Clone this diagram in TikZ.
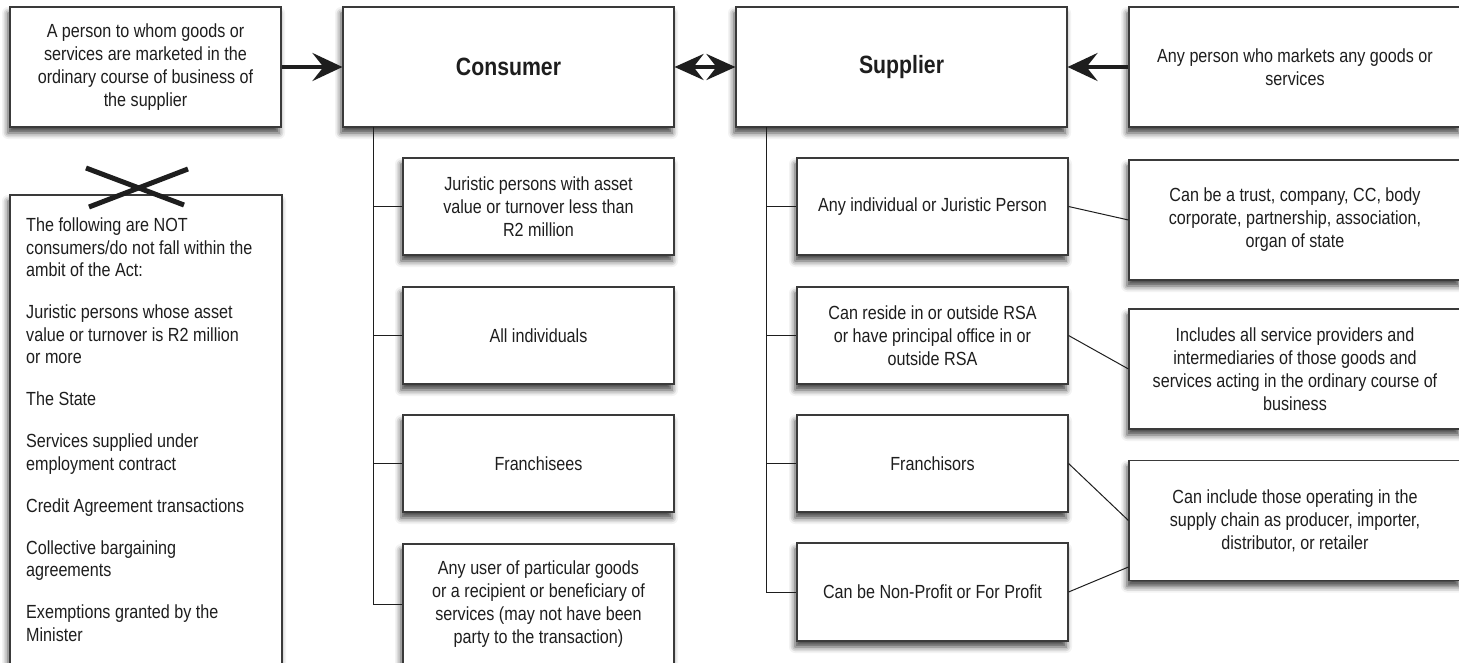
\documentclass[tikz,border=0pt]{standalone}
\usepackage{fontspec}
\setmainfont{Liberation Sans}[FakeStretch=0.85]
\usetikzlibrary{arrows.meta,shadows.blur,calc}
\definecolor{edge}{HTML}{3A3A3A}
\definecolor{ink}{HTML}{1E1E1E}
\tikzset{
  box/.style={draw=edge, line width=1.1pt, fill=white,
    blur shadow={shadow xshift=-2pt, shadow yshift=-6pt, shadow blur radius=6pt, shadow opacity=75},
    align=center, text=ink, inner sep=0pt,
    font=\fontsize{19}{23}\selectfont},
  head/.style={box, font=\bfseries\fontsize{25}{30}\selectfont},
  conn/.style={draw=ink, line width=1pt},
  bigarrow/.style={draw=ink, line width=4pt, -{Stealth[length=30pt,width=28pt,inset=11pt]}},
  dblarrow/.style={draw=ink, line width=4pt, {Stealth[length=29pt,width=26pt,inset=10pt]}-{Stealth[length=29pt,width=26pt,inset=10pt]}},
}
\begin{document}
\begin{tikzpicture}[x=1pt,y=-1pt]
\useasboundingbox (0,0) rectangle (1459,663);
% top row
\node[box, minimum width=271pt, minimum height=120pt] (defc) at (145.5,67)
  {A person to whom goods or\\services are marketed in the\\ordinary course of business of\\the supplier};
\node[head, minimum width=331pt, minimum height=120pt] (cons) at (508.5,67) {Consumer};
\node[head, minimum width=331pt, minimum height=120pt] (supp) at (901.5,67) {Supplier};
\node[box, minimum width=332pt, minimum height=120pt] (defs) at (1295,67)
  {Any person who markets any goods or\\services};
% NOT box
\node[box, minimum width=272pt, minimum height=485pt] (notbox) at (146,437.5) {};
\node[anchor=north west, align=left, inner sep=0pt, text=ink,
  font=\fontsize{19}{22.5}\selectfont] (nottext) at (26,218)
  {The following are NOT\\consumers/do not fall within the\\ambit of the Act:\\[19.5pt]
   Juristic persons whose asset\\value or turnover is R2 million\\or more\\[19.5pt]
   The State\\[19.5pt]
   Services supplied under\\employment contract\\[19.5pt]
   Credit Agreement transactions\\[19.5pt]
   Collective bargaining\\agreements\\[19.5pt]
   Exemptions granted by the\\Minister};
\draw[draw=ink, line width=5pt] (86,168) -- (184,205);
\draw[draw=ink, line width=5pt] (188,169) -- (89,207);
% consumer children
\node[box, minimum width=271pt, minimum height=97pt] (c1) at (538.5,206.5)
  {Juristic persons with asset\\value or turnover less than\\R2 million};
\node[box, minimum width=271pt, minimum height=97pt] (c2) at (538.5,335.5) {All individuals};
\node[box, minimum width=271pt, minimum height=97pt] (c3) at (538.5,463.5) {Franchisees};
\node[box, minimum width=271pt, minimum height=120pt] (c4) at (538.5,604)
  {Any user of particular goods\\or a recipient or beneficiary of\\services (may not have been\\party to the transaction)};
% supplier children
\node[box, minimum width=271pt, minimum height=97pt] (s1) at (932.5,206.5) {Any individual or Juristic Person};
\node[box, minimum width=271pt, minimum height=97pt] (s2) at (932.5,335.5)
  {Can reside in or outside RSA\\or have principal office in or\\outside RSA};
\node[box, minimum width=271pt, minimum height=97pt] (s3) at (932.5,463.5) {Franchisors};
\node[box, minimum width=271pt, minimum height=98pt] (s4) at (932.5,592) {Can be Non-Profit or For Profit};
% right column
\node[box, minimum width=332pt, minimum height=120pt] (r2) at (1295,220)
  {Can be a trust, company, CC, body\\corporate, partnership, association,\\organ of state};
\node[box, minimum width=332pt, minimum height=120pt] (r3) at (1295,369)
  {Includes all service providers and\\intermediaries of those goods and\\services acting in the ordinary course of\\business};
\node[box, minimum width=332pt, minimum height=120pt] (r4) at (1295,520.5)
  {Can include those operating in the\\supply chain as producer, importer,\\distributor, or retailer};
% arrows
\draw[bigarrow] (defc.east) -- (cons.west);
\draw[bigarrow] (defs.west) -- (supp.east);
\draw[dblarrow] (cons.east) -- (supp.west);
% consumer tree
\coordinate (cvtop) at (373,127);
\draw[conn] (cvtop) |- (c4.west);
\draw[conn] (cvtop |- c1.west) -- (c1.west);
\draw[conn] (cvtop |- c2.west) -- (c2.west);
\draw[conn] (cvtop |- c3.west) -- (c3.west);
% supplier tree
\coordinate (svtop) at (766,127);
\draw[conn] (svtop) |- (s4.west);
\draw[conn] (svtop |- s1.west) -- (s1.west);
\draw[conn] (svtop |- s2.west) -- (s2.west);
\draw[conn] (svtop |- s3.west) -- (s3.west);
% cross links
\draw[conn] (s1.east) -- (r2.west);
\draw[conn] (s2.east) -- (r3.west);
\draw[conn] (s3.east) -- (r4.west);
\draw[conn] (s4.east) -- ([yshift=-46.5pt]r4.west);
\end{tikzpicture}
\end{document}
